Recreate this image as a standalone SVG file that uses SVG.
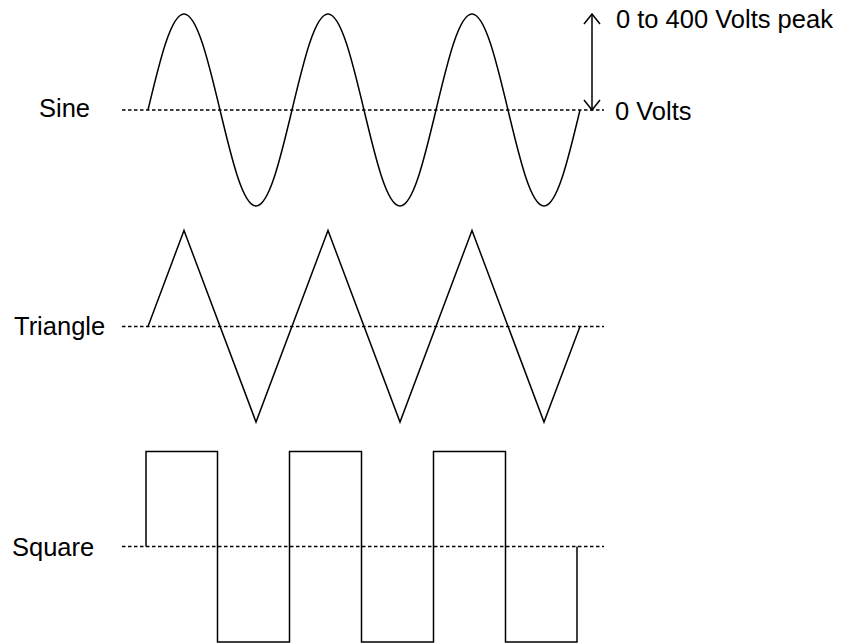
<svg xmlns="http://www.w3.org/2000/svg" width="851" height="644" viewBox="0 0 851 644">
<style>
text{font-family:"Liberation Sans",Arial,sans-serif;font-size:25.5px;fill:#000}
.wave{fill:none;stroke:#000;stroke-width:1.5;stroke-linejoin:miter}
.base{fill:none;stroke:#000;stroke-width:1.5;stroke-dasharray:3.5 2.5}
.arrow{fill:none;stroke:#000;stroke-width:1.5}
</style>
<defs>
<marker id="head" viewBox="-12 -10 14 20" markerWidth="14" markerHeight="20" refX="0" refY="0" orient="auto-start-reverse" markerUnits="userSpaceOnUse">
<path d="M-10,-8 L0,0 L-10,8" fill="none" stroke="#000" stroke-width="1.5"/>
</marker>
</defs>
<rect width="851" height="644" fill="#fff"/>
<g id="sine">
<line class="base" x1="122" y1="110" x2="604" y2="110"/>
<path class="wave" d="M148 110 c11.74 -49.18 22.97 -96 36 -96 c13.03 0 24.26 46.82 36 96 c11.74 49.18 22.97 96 36 96 c13.03 0 24.26 -46.82 36 -96 c11.74 -49.18 22.97 -96 36 -96 c13.03 0 24.26 46.82 36 96 c11.74 49.18 22.97 96 36 96 c13.03 0 24.26 -46.82 36 -96 c11.74 -49.18 22.97 -96 36 -96 c13.03 0 24.26 46.82 36 96 c11.74 49.18 22.97 96 36 96 c13.03 0 24.26 -46.82 36 -96"/>
<text x="39" y="117">Sine</text>
</g>
<g id="triangle">
<line class="base" x1="122" y1="326.5" x2="604" y2="326.5"/>
<polyline class="wave" points="148,326.5 184,230.5 256,422 328,230.5 400,422 472,230.5 544,422 580,326.5"/>
<text x="14" y="335">Triangle</text>
</g>
<g id="square">
<line class="base" x1="122" y1="546.5" x2="604" y2="546.5"/>
<polyline class="wave" points="146,546.5 146,451.5 217.5,451.5 217.5,642 289.5,642 289.5,451.5 361.5,451.5 361.5,642 433.5,642 433.5,451.5 505.5,451.5 505.5,642 577,642 577,546.5"/>
<text x="12" y="556">Square</text>
</g>
<g id="labels">
<text x="616" y="28">0 to 400 Volts peak</text>
<text x="615" y="120">0 Volts</text>
</g>
<g id="connectors">
<line class="arrow" x1="592" y1="110" x2="592" y2="14" marker-start="url(#head)" marker-end="url(#head)"/>
</g>
</svg>
